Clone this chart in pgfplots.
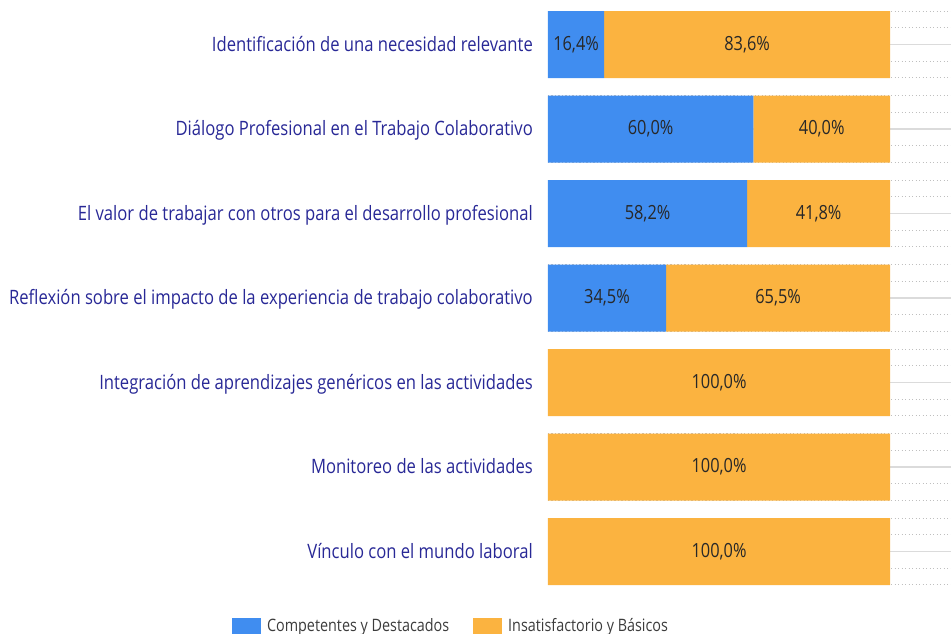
\documentclass[border=0pt]{standalone}
\usepackage{pgfplots}
\pgfplotsset{compat=1.18}
\usepackage{fontspec}
\setmainfont{Open Sans}[FakeStretch=0.84]
\definecolor{cblue}{RGB}{64,141,240}
\definecolor{corange}{RGB}{251,179,64}
\definecolor{lblue}{RGB}{40,40,150}
\definecolor{vtext}{RGB}{40,40,40}
\definecolor{ltext}{RGB}{60,60,60}
\begin{document}
\begin{tikzpicture}
\useasboundingbox (0,0) rectangle (951pt,634pt);
\begin{axis}[
  at={(548pt,40.25pt)}, anchor=south west,
  scale only axis, width=403pt, height=591.5pt,
  xbar stacked, bar width=67pt,
  xmin=0, xmax=117.8,
  ymin=-0.5, ymax=6.5, y dir=reverse,
  axis line style={draw=none},
  xtick=\empty,
  ytick={0,...,6},
  yticklabels={Identificación de una necesidad relevante,
    Diálogo Profesional en el Trabajo Colaborativo,
    El valor de trabajar con otros para el desarrollo profesional,
    Reflexión sobre el impacto de la experiencia de trabajo colaborativo,
    Integración de aprendizajes genéricos en las actividades,
    Monitoreo de las actividades,
    Vínculo con el mundo laboral},
  yticklabel style={font=\fontsize{19.8}{22}\selectfont, text=lblue, anchor=base east, inner sep=0pt, xshift=-15pt, yshift=-6.8pt},
  major tick length=0pt,
  tick style={draw=none},
  ymajorgrids,
  major grid style={draw=black!14, line width=1.3pt},
  extra y ticks={-0.394,-0.1976,0.1976,0.394,
    0.606,0.8024,1.1976,1.394,
    1.606,1.8024,2.1976,2.394,
    2.606,2.8024,3.1976,3.394,
    3.606,3.8024,4.1976,4.394,
    4.606,4.8024,5.1976,5.394,
    5.606,5.8024,6.1976,6.394},
  extra y tick labels={},
  extra y tick style={grid=major, major grid style={draw=black!25, line width=1pt, dash pattern=on 1.4pt off 2.1pt}},
  legend style={at={(-0.2407,-0.0545)}, anchor=center, legend columns=2, draw=none,
    font=\fontsize{17.1}{19}\selectfont, text=ltext,
    /tikz/every odd column/.append style={column sep=4pt},
    /tikz/every even column/.append style={column sep=22pt}},
  legend image code/.code={\fill[#1] (0pt,-8pt) rectangle (29pt,8pt);},
  nodes near coords,
  point meta=explicit symbolic,
  every node near coord/.append style={font=\fontsize{19.5}{22}\selectfont, text=vtext},
]
\addplot[fill=cblue, draw=none] coordinates {(16.4,0) [16,4\%] (60.0,1) [60,0\%] (58.2,2) [58,2\%] (34.5,3) [34,5\%] (0,4) [{}] (0,5) [{}] (0,6) [{}]};
\addlegendentry{Competentes y Destacados}
\addplot[fill=corange, draw=none] coordinates {(83.6,0) [83,6\%] (40.0,1) [40,0\%] (41.8,2) [41,8\%] (65.5,3) [65,5\%] (100,4) [100,0\%] (100,5) [100,0\%] (100,6) [100,0\%]};
\addlegendentry{Insatisfactorio y Básicos}
\end{axis}
\end{tikzpicture}
\end{document}
